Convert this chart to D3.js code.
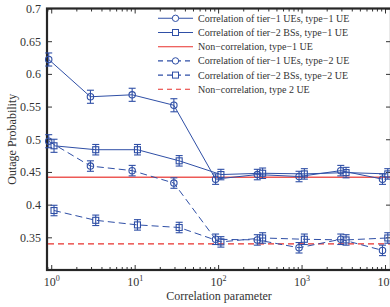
<!DOCTYPE html>
<html>
<head>
<meta charset="utf-8">
<script src="https://cdn.jsdelivr.net/npm/d3@7"></script>
<style>
  body { margin: 0; background: #fff; }
  svg { display: block; font-family: "Liberation Serif", "Times New Roman", serif; }
</style>
</head>
<body>
<script>
// 画布大小
const width = 390;
const height = 307;

// 绘图区域边界
const plot = { left: 47, top: 8.5, right: 391, bottom: 270 };

// 相关参数 (横轴), 半个数量级一个点
const param = [1, 3.162, 10, 31.62, 100, 316.2, 1000, 3162, 10000];

// 各条曲线的中断概率
const tier1Type1 = [0.622, 0.565, 0.568, 0.552, 0.439, 0.446, 0.443, 0.452, 0.439];
const tier2Type1 = [0.490, 0.484, 0.484, 0.467, 0.446, 0.448, 0.447, 0.449, 0.447];
const nonCorrType1 = 0.442;
const tier1Type2 = [0.497, 0.459, 0.452, 0.433, 0.347, 0.346, 0.334, 0.347, 0.330];
const tier2Type2 = [0.391, 0.376, 0.369, 0.365, 0.343, 0.349, 0.347, 0.346, 0.349];
const nonCorrType2 = 0.340;

// 误差条半长
const errT1T1 = [0.010, 0.010, 0.010, 0.010, 0.008, 0.008, 0.008, 0.008, 0.008];
const errT2T1 = [0.010, 0.008, 0.008, 0.008, 0.008, 0.008, 0.008, 0.008, 0.008];
const errT1T2 = [0.010, 0.008, 0.008, 0.008, 0.008, 0.008, 0.008, 0.008, 0.008];
const errT2T2 = [0.008, 0.008, 0.008, 0.008, 0.008, 0.008, 0.008, 0.008, 0.008];

const yTicks = [0.35, 0.4, 0.45, 0.5, 0.55, 0.6, 0.65, 0.7];
const xMajor = [1, 10, 100, 1000, 10000];
const legendLabels = [
  'Correlation of tier\u22121 UEs, type\u22121 UE',
  'Correlation of tier\u22122 BSs, type\u22121 UE',
  'Non\u2212correlation, type\u22121 UE',
  'Correlation of tier\u22121 UEs, type\u22122 UE',
  'Correlation of tier\u22122 BSs, type\u22122 UE',
  'Non\u2212correlation, type 2 UE'
];

const blue = '#2f4fa6';
const red = '#e8302c';

// 圆点和方块稍微错开
const circleShift = 0.933;
const squareShift = 1.08;

const svg = d3.select('body').append('svg').attr('width', width).attr('height', height);

const x = d3.scaleLog().domain([0.89, 11800]).range([plot.left, plot.right]);
const y = d3.scaleLinear().domain([0.3, 0.7]).range([plot.bottom, plot.top]);

// 坐标轴(刻度朝内)
const minorTicks = x.ticks().filter(function(d){ return xMajor.indexOf(d) < 0; });
svg.append('g').attr('transform', 'translate(0,' + plot.bottom + ')')
   .call(d3.axisBottom(x).tickValues(minorTicks).tickSize(-3).tickFormat(''));
svg.append('g').attr('transform', 'translate(0,' + plot.top + ')')
   .call(d3.axisTop(x).tickValues(minorTicks).tickSize(-3).tickFormat(''));
const xb = svg.append('g').attr('transform', 'translate(0,' + plot.bottom + ')')
   .call(d3.axisBottom(x).tickValues(xMajor).tickSize(-5).tickFormat(''));
svg.append('g').attr('transform', 'translate(0,' + plot.top + ')')
   .call(d3.axisTop(x).tickValues(xMajor).tickSize(-5).tickFormat(''));
svg.append('g').attr('transform', 'translate(' + plot.left + ',0)')
   .call(d3.axisLeft(y).tickValues(yTicks).tickSize(-5).tickPadding(6).tickFormat(function(d){ return String(d); }));
svg.append('g').attr('transform', 'translate(' + plot.right + ',0)')
   .call(d3.axisRight(y).tickValues(yTicks).tickSize(-5).tickFormat(''));

svg.selectAll('.domain').remove();
svg.selectAll('.tick line').attr('stroke', '#333').attr('stroke-width', 1);
svg.selectAll('.tick text').attr('font-family', '"Liberation Serif", serif').attr('font-size', 12).attr('fill', '#333');
// 去掉空的刻度文字
xb.selectAll('.tick text').remove();

// 10的幂标签
xb.selectAll('.tick').each(function(d){
  const t = d3.select(this).append('text')
    .attr('y', 15.5).attr('fill', '#333').attr('text-anchor', 'middle')
    .attr('font-family', '"Liberation Serif", serif').attr('font-size', 12);
  t.append('tspan').text('10');
  t.append('tspan').attr('font-size', 8).attr('dy', -5).text(Math.round(Math.log10(d)));
});

svg.append('rect')
   .attr('x', plot.left).attr('y', plot.top)
   .attr('width', plot.right - plot.left).attr('height', plot.bottom - plot.top)
   .attr('fill', 'none').attr('stroke', '#262626').attr('stroke-width', 2.2);

// 曲线
const series = [
  { v: tier1Type1, e: errT1T1, marker: 'circle', dash: null, shift: circleShift },
  { v: tier2Type1, e: errT2T1, marker: 'square', dash: null, shift: squareShift },
  { v: tier1Type2, e: errT1T2, marker: 'circle', dash: '7,4', shift: circleShift },
  { v: tier2Type2, e: errT2T2, marker: 'square', dash: '7,4', shift: squareShift }
];

const line = d3.line()
  .x(function(d){ return x(d.p); })
  .y(function(d){ return y(d.v); });

// 红色参考线
svg.append('line')
   .attr('x1', plot.left + 1).attr('x2', plot.right)
   .attr('y1', y(nonCorrType1)).attr('y2', y(nonCorrType1))
   .attr('stroke', red).attr('stroke-opacity', 0.8).attr('stroke-width', 1.5);
svg.append('line')
   .attr('x1', plot.left + 1).attr('x2', plot.right)
   .attr('y1', y(nonCorrType2)).attr('y2', y(nonCorrType2))
   .attr('stroke', red).attr('stroke-width', 1.2).attr('stroke-dasharray', '6,4');

series.forEach(function(s){
  const pts = s.v.map(function(v, i){ return { p: param[i] * s.shift, v: v, e: s.e[i] }; });
  svg.append('path').datum(pts)
     .attr('d', line).attr('fill', 'none')
     .attr('stroke', blue).attr('stroke-width', 1)
     .attr('stroke-dasharray', s.dash);

  const g = svg.append('g').selectAll('g').data(pts).enter().append('g')
     .attr('stroke', blue).attr('fill', 'none').attr('stroke-width', 1.1);
  g.append('line')
   .attr('x1', function(d){ return x(d.p); }).attr('x2', function(d){ return x(d.p); })
   .attr('y1', function(d){ return y(d.v - d.e); }).attr('y2', function(d){ return y(d.v + d.e); });
  [-1, 1].forEach(function(sg){
    g.append('line')
     .attr('x1', function(d){ return x(d.p) - 3.5; }).attr('x2', function(d){ return x(d.p) + 3.5; })
     .attr('y1', function(d){ return y(d.v + sg * d.e); }).attr('y2', function(d){ return y(d.v + sg * d.e); });
  });
  if (s.marker === 'circle') {
    g.append('circle')
     .attr('cx', function(d){ return x(d.p); }).attr('cy', function(d){ return y(d.v); })
     .attr('r', 3.2);
  } else {
    g.append('rect')
     .attr('x', function(d){ return x(d.p) - 3; }).attr('y', function(d){ return y(d.v) - 3; })
     .attr('width', 6).attr('height', 6);
  }
});

// 图例
const legendStyles = [
  { c: blue, dash: null, m: 'circle' },
  { c: blue, dash: null, m: 'square' },
  { c: red, dash: null, m: null },
  { c: blue, dash: '5,4', m: 'circle' },
  { c: blue, dash: '5,4', m: 'square' },
  { c: red, dash: '5,4', m: null }
];
const lg = svg.append('g');
legendLabels.forEach(function(lab, i){
  const cy = 18.3 + i * 14.2;
  const st = legendStyles[i];
  lg.append('line').attr('x1', 158).attr('x2', 193).attr('y1', cy).attr('y2', cy)
    .attr('stroke', st.c).attr('stroke-width', 1.1).attr('stroke-dasharray', st.dash);
  if (st.m === 'circle') {
    lg.append('circle').attr('cx', 175.5).attr('cy', cy).attr('r', 3.2)
      .attr('fill', '#fff').attr('stroke', st.c);
  } else if (st.m === 'square') {
    lg.append('rect').attr('x', 172.5).attr('y', cy - 3).attr('width', 6).attr('height', 6)
      .attr('fill', '#fff').attr('stroke', st.c);
  }
  lg.append('text').attr('x', 198).attr('y', cy + 3.5)
    .attr('font-size', 10).attr('fill', '#333').text(lab);
});

// 轴标题
svg.append('text')
   .attr('x', (plot.left + plot.right) / 2).attr('y', 300)
   .attr('text-anchor', 'middle').attr('font-size', 12).attr('fill', '#333')
   .text('Correlation parameter');
svg.append('text')
   .attr('transform', 'translate(16,' + ((plot.top + plot.bottom) / 2) + ') rotate(-90)')
   .attr('text-anchor', 'middle').attr('font-size', 12).attr('fill', '#333')
   .text('Outage Probability');
</script>
</body>
</html>
